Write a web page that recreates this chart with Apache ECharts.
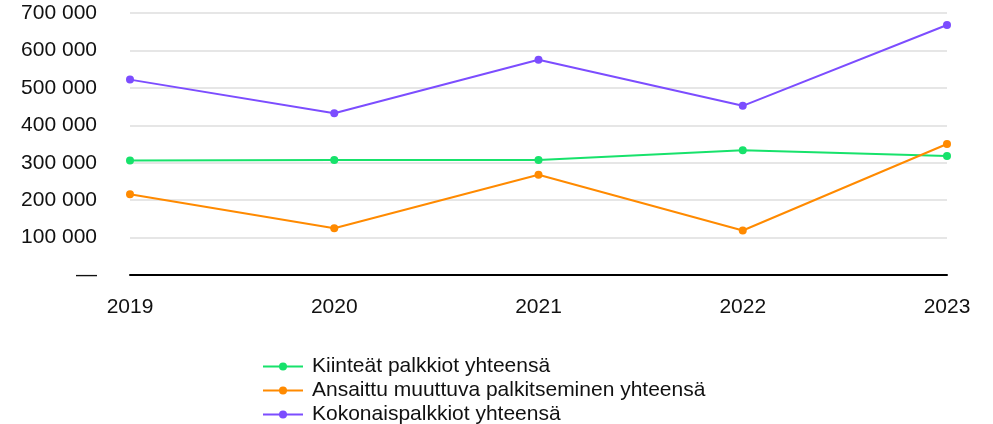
<!DOCTYPE html>
<html>
<head>
<meta charset="utf-8">
<script src="https://cdn.jsdelivr.net/npm/echarts@6/dist/echarts.min.js"></script>
<style>html,body{margin:0;padding:0;background:#fff;}#c{width:993px;height:424px;}</style>
</head>
<body>
<div id="c"></div>
<script>
var categories = ['2019', '2020', '2021', '2022', '2023'];
var seriesNames = ['Kiinteät palkkiot yhteensä', 'Ansaittu muuttuva palkitseminen yhteensä', 'Kokonaispalkkiot yhteensä'];
var kiinteat = [306000, 307000, 307000, 333000, 318000];
var ansaittu = [216000, 125000, 268000, 119000, 350000];
var kokonais = [522000, 432000, 575000, 452000, 668000];
var colors = ['#17e26b', '#ff8a00', '#7c4dff'];

var font = 'Liberation Sans, Arial, Helvetica, sans-serif';
function fmt(v) {
  if (v === 0) return '—';
  return String(v).replace(/\B(?=(\d{3})+(?!\d))/g, ' ');
}
var chart = echarts.init(document.getElementById('c'));
var data = [kiinteat, ansaittu, kokonais];
chart.setOption({
  animation: false,
  color: colors,
  grid: { left: 130, right: 46, top: 13, bottom: 149, containLabel: false },
  xAxis: {
    type: 'category',
    data: categories,
    boundaryGap: false,
    axisLine: { lineStyle: { color: '#000', width: 2 } },
    axisTick: { show: false },
    axisLabel: { color: '#111', fontSize: 21, fontFamily: font, margin: 22 },
    splitLine: { show: false }
  },
  yAxis: {
    type: 'value',
    min: 0, max: 700000, interval: 100000,
    axisLine: { show: false },
    axisTick: { show: false },
    axisLabel: { color: '#111', fontSize: 21, fontFamily: font, margin: 33, padding: [3, 0, 0, 0], formatter: fmt },
    splitLine: { lineStyle: { color: '#e6e6e6', width: 2 } }
  },
  legend: {
    orient: 'vertical',
    left: 262, top: 356, height: 100, width: 600,
    padding: 0,
    itemWidth: 40, itemHeight: 10, itemGap: 3,
    textStyle: { color: '#111', fontSize: 21, fontFamily: font, lineHeight: 21, padding: [0, 0, 0, 4] },
    data: seriesNames
  },
  series: seriesNames.map(function (n, i) {
    return {
      name: n, type: 'line', data: data[i],
      symbol: 'circle', symbolSize: 8,
      lineStyle: { width: 2, color: colors[i] },
      itemStyle: { color: colors[i] }
    };
  })
});
</script>
</body>
</html>
